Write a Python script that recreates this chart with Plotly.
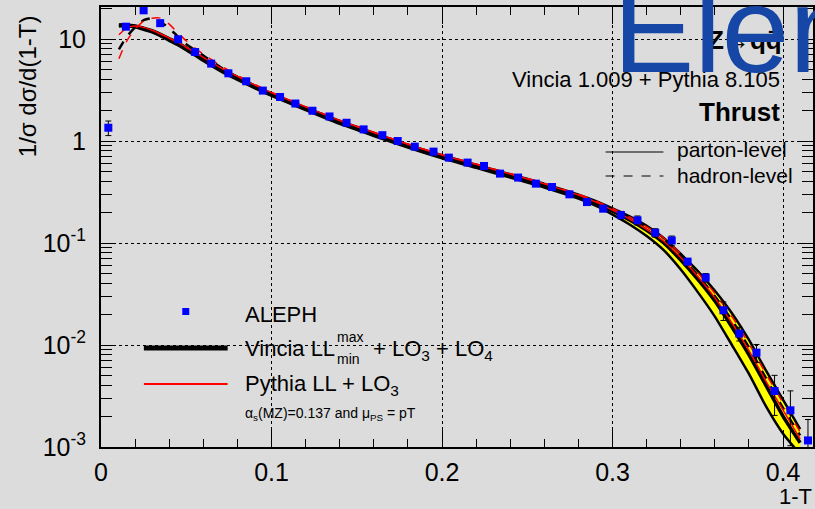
import plotly.graph_objects as go

# ---------------- data ----------------
aleph_x = [0.0043, 0.0146, 0.025, 0.0347, 0.0452, 0.0552, 0.0646, 0.0747, 0.0852, 0.0949,
           0.105, 0.114, 0.124, 0.134, 0.144, 0.154, 0.165, 0.174, 0.184, 0.195,
           0.204, 0.215, 0.2246, 0.234, 0.2446, 0.255, 0.2645, 0.2747, 0.285, 0.2945,
           0.3049, 0.3146, 0.325, 0.3347, 0.344, 0.3546, 0.365, 0.3743, 0.3844, 0.395,
           0.4043, 0.4146]
aleph_y = [1.35, 13.2, 19.1, 14.3, 9.93, 7.46, 5.74, 4.61, 3.85, 3.12,
           2.70, 2.33, 1.98, 1.74, 1.51, 1.30, 1.14, 1.00, 0.88, 0.787,
           0.687, 0.614, 0.569, 0.479, 0.438, 0.382, 0.354, 0.300, 0.252, 0.217,
           0.188, 0.167, 0.126, 0.106, 0.0657, 0.0458, 0.0219, 0.01294, 0.00842, 0.00354,
           0.00229, 0.00116]
aleph_err = [0.22, 0.4, 0.6, 0.45, 0.3, 0.2, 0.15, 0.12, 0.1, 0.08,
             0.07, 0.06, 0.05, 0.045, 0.04, 0.035, 0.03, 0.025, 0.022, 0.02,
             0.018, 0.016, 0.015, 0.013, 0.012, 0.011, 0.011, 0.010, 0.010, 0.012,
             0.016, 0.017, 0.012, 0.011, 0.0046, 0.0044, 0.0045, 0.0020, 0.0017, 0.0015,
             0.00126, 0.0007]

mc_x = [0.0105, 0.015, 0.02, 0.025, 0.03, 0.035, 0.04, 0.045, 0.05, 0.055,
        0.06, 0.07, 0.08, 0.09, 0.10, 0.12, 0.14, 0.16, 0.18, 0.20,
        0.22, 0.24, 0.26, 0.28, 0.29, 0.30, 0.31, 0.32, 0.33, 0.34,
        0.35, 0.36, 0.37, 0.38, 0.39, 0.40, 0.41]
vincia_parton = [13.6, 13.6, 13.3, 12.6, 11.9, 10.9, 9.9, 9.0, 8.0, 7.1,
                 6.3, 5.0, 4.1, 3.4, 2.85, 2.07, 1.52, 1.16, 0.89, 0.70,
                 0.565, 0.455, 0.365, 0.285, 0.245, 0.205, 0.168, 0.133, 0.100, 0.068,
                 0.044, 0.027, 0.0150, 0.0080, 0.0040, 0.0020, 0.0011]
vincia_hadron = [7.9, 10.5, 13.0, 15.3, 16.0, 14.6, 12.8, 10.6, 8.9, 7.8,
                 6.9, 5.3, 4.25, 3.5, 2.92, 2.1, 1.55, 1.18, 0.905, 0.715,
                 0.575, 0.465, 0.372, 0.292, 0.252, 0.212, 0.175, 0.139, 0.106, 0.073,
                 0.048, 0.030, 0.0175, 0.0095, 0.0047, 0.0024, 0.0013]
vincia_max = [13.9, 13.9, 13.6, 12.9, 12.2, 11.2, 10.2, 9.3, 8.25, 7.3,
              6.5, 5.15, 4.22, 3.5, 2.93, 2.13, 1.57, 1.2, 0.92, 0.725,
              0.585, 0.472, 0.38, 0.298, 0.258, 0.218, 0.182, 0.147, 0.112, 0.078,
              0.053, 0.034, 0.0205, 0.0112, 0.0056, 0.0029, 0.0015]
vincia_min = [13.3, 13.3, 13.0, 12.3, 11.6, 10.6, 9.6, 8.7, 7.75, 6.9,
              6.1, 4.85, 3.98, 3.3, 2.77, 2.01, 1.47, 1.12, 0.86, 0.675,
              0.545, 0.438, 0.35, 0.272, 0.232, 0.19, 0.152, 0.117, 0.085, 0.055,
              0.033, 0.019, 0.0100, 0.0052, 0.0025, 0.00135, 0.00085]
pythia_parton = [11.0, 12.8, 13.4, 13.0, 12.2, 11.2, 10.2, 9.3, 8.3, 7.4,
                 6.6, 5.25, 4.3, 3.55, 2.98, 2.16, 1.59, 1.21, 0.93, 0.73,
                 0.59, 0.475, 0.38, 0.295, 0.253, 0.21, 0.172, 0.136, 0.104, 0.072,
                 0.047, 0.029, 0.0165, 0.0088, 0.0044, 0.0023, 0.0012]
pythia_hadron = [6.4, 9.5, 12.5, 15.0, 16.0, 16.0, 14.0, 11.5, 9.6, 8.2,
                 7.1, 5.5, 4.4, 3.6, 3.0, 2.17, 1.6, 1.22, 0.935, 0.735,
                 0.595, 0.48, 0.385, 0.30, 0.26, 0.218, 0.18, 0.144, 0.112, 0.078,
                 0.051, 0.032, 0.019, 0.0103, 0.0052, 0.0027, 0.0014]
band_start = 23  # tail region index where the yellow band is drawn

y_tickvals = [0.001, 0.01, 0.1, 1, 10]
y_ticktext = ["10<sup>-3</sup>", "10<sup>-2</sup>", "10<sup>-1</sup>", "1", "10"]
x_tickvals = [0, 0.1, 0.2, 0.3, 0.4]
x_ticktext = ["0", "0.1", "0.2", "0.3", "0.4"]

# ---------------- layout geometry ----------------
W, H = 815, 509
L, R, T, B = 101, 815, 7, 447
X_MAX = (R - L) / 1710.0
Y_LOG_MAX = -3 + (B - T) / 102.0
FONT = "Liberation Sans, Arial, sans-serif"
BG = "#dcdcdc"


def px(x):
    return (x - L) / (R - L)


def py(y):
    return (B - y) / (B - T)


fig = go.Figure()

# yellow band in tail
fig.add_trace(go.Scatter(x=mc_x[band_start:], y=vincia_min[band_start:], mode="lines",
                         line=dict(width=0, color="black"), showlegend=False, hoverinfo="skip"))
fig.add_trace(go.Scatter(x=mc_x[band_start:], y=vincia_max[band_start:], mode="lines",
                         line=dict(width=0, color="black"), fill="tonexty",
                         fillcolor="#ffff00", showlegend=False, hoverinfo="skip"))

# Vincia curves
fig.add_trace(go.Scatter(x=mc_x, y=vincia_min, mode="lines",
                         line=dict(width=2.5, color="black", shape="spline", smoothing=0.6)))
fig.add_trace(go.Scatter(x=mc_x, y=vincia_max, mode="lines",
                         line=dict(width=2.5, color="black", shape="spline", smoothing=0.6)))
fig.add_trace(go.Scatter(x=mc_x, y=vincia_parton, mode="lines",
                         line=dict(width=3.5, color="black", shape="spline", smoothing=0.6)))
fig.add_trace(go.Scatter(x=mc_x, y=vincia_hadron, mode="lines",
                         line=dict(width=2.5, color="black", dash="dash", shape="spline", smoothing=0.6)))
# Pythia curves
fig.add_trace(go.Scatter(x=mc_x, y=pythia_parton, mode="lines",
                         line=dict(width=1.5, color="#ff0000", shape="spline", smoothing=0.6)))
fig.add_trace(go.Scatter(x=mc_x, y=pythia_hadron, mode="lines",
                         line=dict(width=1.5, color="#ff0000", dash="dash", shape="spline", smoothing=0.6)))
# ALEPH data
fig.add_trace(go.Scatter(x=aleph_x, y=aleph_y, mode="markers",
                         marker=dict(symbol="square", size=8, color="#0000ff", line=dict(width=0)),
                         error_y=dict(type="data", array=aleph_err, color="black", thickness=1, width=3)))

# ---------------- legend samples ----------------
shapes = [
    dict(type="line", xref="paper", yref="paper", x0=px(607), x1=px(665), y0=py(152), y1=py(152),
         line=dict(color="black", width=1)),
    dict(type="line", xref="paper", yref="paper", x0=px(607), x1=px(665), y0=py(176), y1=py(176),
         line=dict(color="black", width=1, dash="dash")),
    dict(type="line", xref="paper", yref="paper", x0=px(144), x1=px(228), y0=py(348), y1=py(348),
         line=dict(color="black", width=5)),
    dict(type="line", xref="paper", yref="paper", x0=px(144), x1=px(228), y0=py(384), y1=py(384),
         line=dict(color="#ff0000", width=2)),
    dict(type="rect", xref="paper", yref="paper", x0=px(182.5), x1=px(189.5), y0=py(315), y1=py(308),
         fillcolor="#0000ff", line=dict(width=0)),
]


def ann(text, x, y, size, xanchor="left", bold=False, color="black", **kw):
    return dict(text=(f"<b>{text}</b>" if bold else text), x=px(x), y=py(y), xref="paper", yref="paper",
                xanchor=xanchor, yanchor="middle", showarrow=False,
                font=dict(family=FONT, size=size, color=color), **kw)


annotations = [
    ann("1/σ dσ/d(1-T)", 27, 86, 24, xanchor="center", textangle=-90),
    ann("1-T", 816, 496, 22, xanchor="right"),
    ann("Z→qq̄", 786, 40, 26, xanchor="right", bold=True),
    ann("Vincia 1.009 + Pythia 8.105", 784, 79, 22, xanchor="right"),
    ann("Thrust", 784, 112, 26, xanchor="right", bold=True),
    ann("parton-level", 677, 150, 21),
    ann("hadron-level", 677, 176, 21),
    ann("ALEPH", 243, 314, 22),
    ann("Vincia LL", 243, 348, 22),
    ann("max", 336, 337, 14),
    ann("min", 336, 359, 14),
    ann("+ LO<sub>3</sub> + LO<sub>4</sub>", 372, 350, 22),
    ann("Pythia LL + LO<sub>3</sub>", 243, 385, 22),
    ann("α<sub>s</sub>(MZ)=0.137 and μ<sub>PS</sub> = pT", 243, 414, 14),
    dict(text="Elen", x=px(612), y=py(100), xref="paper", yref="paper", xanchor="left", yanchor="bottom",
         showarrow=False, font=dict(family=FONT, size=122, color="#1747a6")),
]

axis_common = dict(showline=True, linecolor="black", linewidth=2, mirror="ticks",
                   ticks="inside", tickcolor="black", tickwidth=1,
                   showgrid=True, gridcolor="black", griddash="dot", gridwidth=1,
                   zeroline=False, tickfont=dict(family=FONT, size=25, color="black"))

y_minor = [m * 10 ** e for e in range(-3, 2) for m in range(2, 10)]

fig.update_layout(
    width=W, height=H, showlegend=False,
    margin=dict(l=L, r=W - R, t=T, b=H - B, pad=0),
    paper_bgcolor=BG, plot_bgcolor=BG,
    xaxis=dict(range=[0, X_MAX], tickvals=x_tickvals, ticktext=x_ticktext, ticklen=17,
               minor=dict(ticks="inside", ticklen=8, dtick=0.02, tickcolor="black", showgrid=False),
               ticklabelstandoff=2, **axis_common),
    yaxis=dict(type="log", range=[-3, Y_LOG_MAX], tickvals=y_tickvals, ticktext=y_ticktext, ticklen=15,
               minor=dict(ticks="inside", ticklen=11, tickvals=y_minor, tickcolor="black", showgrid=False),
               ticklabelstandoff=8, **axis_common),
    shapes=shapes, annotations=annotations,
)

fig.write_html("out.html", config={"displayModeBar": False},
               post_script="document.body.style.margin='0';document.body.style.padding='0';"
                           "document.body.style.background='" + BG + "';")
